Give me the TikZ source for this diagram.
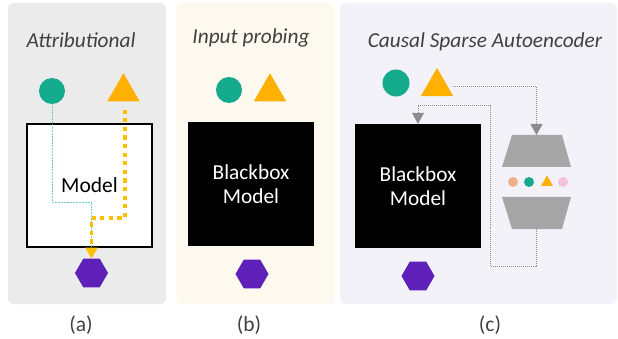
\documentclass[tikz,border=0pt]{standalone}
\usepackage{fontspec}
\setmainfont{Carlito}
\usetikzlibrary{shapes.geometric,arrows.meta}
\definecolor{bga}{HTML}{EBEBEB}
\definecolor{bgb}{HTML}{FEF9EE}
\definecolor{bgc}{HTML}{F4F2F9}
\definecolor{txtgray}{HTML}{404040}
\definecolor{tealc}{HTML}{13AB8C}
\definecolor{orangec}{HTML}{FFB000}
\definecolor{yellowc}{HTML}{FFC000}
\definecolor{purplec}{HTML}{5E20B8}
\definecolor{peachc}{HTML}{F0B08A}
\definecolor{pinkc}{HTML}{F2C2DE}
\definecolor{trapgray}{HTML}{A6A6A6}
\definecolor{linegray}{HTML}{8C8C8C}
\definecolor{tline}{HTML}{6FCFB8}
\begin{document}
\begin{tikzpicture}[x=1pt,y=-1pt,
  panel/.style={rounded corners=6pt},
  ttl/.style={font=\fontsize{21.3}{25}\selectfont\itshape, text=txtgray, anchor=base, inner sep=0},
  lbl/.style={font=\fontsize{21.5}{25}\selectfont, text=txtgray, inner sep=0},
  dotc/.style={circle, fill=tealc, inner sep=0, minimum size=26pt},
  tri/.style={regular polygon, regular polygon sides=3, fill=orangec, inner sep=0, minimum size=37.5pt},
  hex/.style={regular polygon, regular polygon sides=6, fill=purplec, inner sep=0, minimum size=33pt},
  bbox/.style={fill=black, text=white, minimum width=126pt, minimum height=124pt, align=center,
    font=\fontsize{21.3}{24.5}\selectfont, inner sep=0},
  wbox/.style={draw=black, line width=1.5pt, fill=white, minimum width=125pt, minimum height=123pt,
    font=\fontsize{21.5}{25}\selectfont, inner sep=0},
  small/.style={circle, inner sep=0, minimum size=10pt},
  gline/.style={draw=linegray, line width=0.8pt, dash pattern=on 1pt off 1pt},
  garrow/.style={-{Triangle[width=12pt,length=11pt]}},
  oline/.style={draw=yellowc, line width=3.5pt, dash pattern=on 4.3pt off 4.3pt},
  tdots/.style={draw=tline, line width=0.6pt, dash pattern=on 1pt off 0.5pt}
]
\useasboundingbox (0,0) rectangle (618,339);
% backgrounds
\fill[bga,panel] (8,3) rectangle (166,304);
\fill[bgb,panel] (176,3) rectangle (334,304);
\fill[bgc,panel] (340,3) rectangle (617,304);

% titles
\node[ttl] (t1) at (81,48) {Attributional};
\node[ttl] (t2) at (251,44) {Input probing};
\node[ttl] (t3) at (485,48) {Causal Sparse Autoencoder};

% panel a
\node[dotc] (circ1) at (52,91) {};
\node[tri] (tri1) at (123.5,92) {};
\node[wbox] (box1) at (89.5,185.5) {Model};
\node[hex] (hex1) at (91.5,273) {};
\coordinate (tcor) at (91.5,202);
\coordinate (ocor) at (91.5,218);
\draw[tdots] (circ1.south) |- (tcor) -- (tcor |- box1.south);
\draw[oline, -{Triangle[width=12pt,length=11pt]}] ([xshift=1.5pt,yshift=-8pt]tri1.south) |- (ocor) -- (hex1.north);

% panel b
\node[dotc] (circ2) at (229,90) {};
\node[tri] (tri2) at (270,92) {};
\node[bbox] (box2) at (251,184) {Blackbox\\Model};
\node[hex] (hex2) at (252,274) {};

% panel c
\node[dotc, minimum size=27pt] (circ3) at (396,83) {};
\node[tri] (tri3) at (437,86.7) {};
\node[bbox] (box3) at (418,186) {Blackbox\\Model};
\node[hex] (hex3) at (418,276) {};
\fill[trapgray] (512,135) -- (562,135) -- (571,167) -- (502,167) -- cycle;
\fill[trapgray] (502,197) -- (571,197) -- (562,229) -- (512,229) -- cycle;
\coordinate (enctop) at (536.5,135);
\coordinate (decbot) at (536.5,229);
\node[small, fill=peachc] (s1) at (513,182) {};
\node[small, fill=tealc] (s2) at (529,182) {};
\node[regular polygon, regular polygon sides=3, fill=orangec, inner sep=0, minimum size=14pt] (s3) at (547,182.5) {};
\node[small, fill=pinkc] (s4) at (563,182) {};
\coordinate (c1) at (490,266);
\coordinate (c2) at (418,105);
\draw[gline, garrow] ([xshift=5pt]tri3.east) -| (enctop);
\draw[gline, garrow] (decbot) |- (c1) |- (c2) -- (box3.north);

% labels
\node[lbl] (la) at (81,325) {(a)};
\node[lbl] (lb) at (249,325) {(b)};
\node[lbl] (lc) at (490,325) {(c)};
\end{tikzpicture}
\end{document}
